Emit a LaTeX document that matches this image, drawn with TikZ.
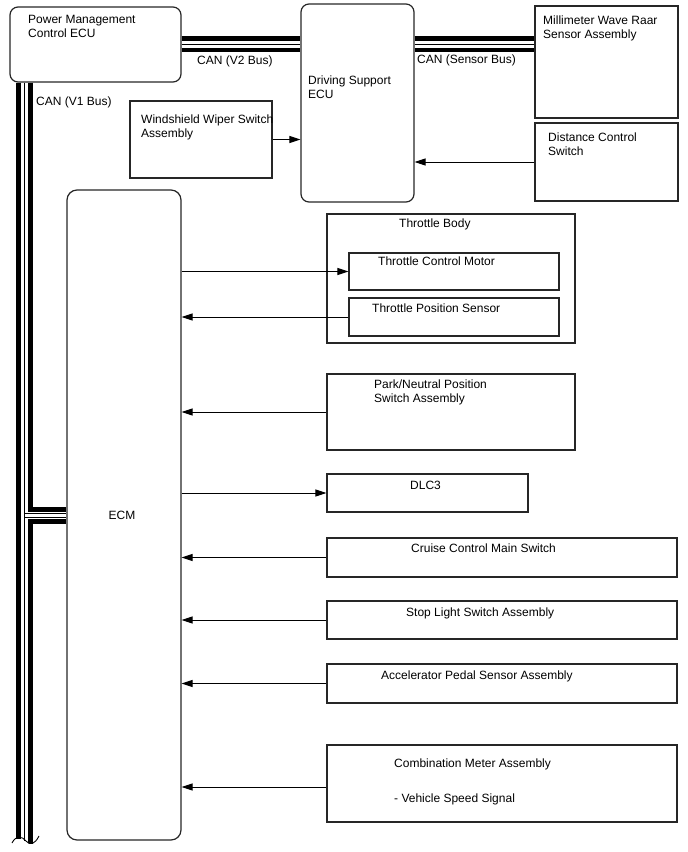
\documentclass[tikz,border=0pt]{standalone}
\usepackage{fontspec}
\setmainfont{Liberation Sans}
\usepackage{tikz}
\usetikzlibrary{calc,arrows.meta}

\tikzset{
    blk/.style={draw=black!85, line width=1.2pt, inner sep=0pt},
    ecu/.style={blk, rounded corners=8pt},
    txt/.style={anchor=north west, inner sep=0pt, align=left},
    arr/.style={draw=black, line width=1pt, -{Triangle[length=11pt,width=7pt]}},
    busthick/.style={line width=4.4pt},
    busthin/.style={line width=1pt}
}

\begin{document}
\begin{tikzpicture}[x=1pt, y=-1pt, font=\fontsize{12}{14}\selectfont]
    \useasboundingbox (0,0) rectangle (688,852);

    % ECUs and parts
    \node[ecu, minimum width=171, minimum height=75] (pmc) at (95.5, 44.5) {};
    \node[ecu, minimum width=113, minimum height=198] (ds) at (357.5, 103) {};
    \node[blk, minimum width=143, minimum height=112] (mw) at (606.5, 62) {};
    \node[blk, minimum width=142, minimum height=77] (wws) at (201, 139.5) {};
    \node[blk, minimum width=143, minimum height=78] (dcs) at (606.5, 162) {};
    \node[ecu, rounded corners=10pt, minimum width=114, minimum height=650] (ecm) at (124, 515) {};

    \node[blk, minimum width=248, minimum height=129] (tb) at (451, 278.5) {};
    \node[blk, minimum width=210, minimum height=37] (tcm) at (454, 271.5) {};
    \node[blk, minimum width=210, minimum height=38] (tps) at (454, 317) {};
    \node[blk, minimum width=248, minimum height=76] (pnp) at (451, 412) {};
    \node[blk, minimum width=201, minimum height=38] (dlc) at (427.5, 493) {};
    \node[blk, minimum width=350, minimum height=39] (ccms) at (502, 557.5) {};
    \node[blk, minimum width=350, minimum height=38] (sls) at (502, 620) {};
    \node[blk, minimum width=350, minimum height=39] (aps) at (502, 683.5) {};
    \node[blk, minimum width=350, minimum height=77] (cma) at (502, 783.5) {};

    % texts
    \node[txt] (pmc-t) at (28, 15) {Power Management\\Control ECU};
    \node[txt] (ds-t) at (308, 76) {Driving Support\\ECU};
    \node[txt] (mw-t) at (543, 16) {Millimeter Wave Raar\\Sensor Assembly};
    \node[txt] (wws-t) at (141, 115) {Windshield Wiper Switch\\Assembly};
    \node[txt] (dcs-t) at (548, 133) {Distance Control\\Switch};
    \node (ecm-t) at (122, 515) {ECM};
    \node[txt] (tb-t) at (399, 219) {Throttle Body};
    \node[txt] (tcm-t) at (378, 257) {Throttle Control Motor};
    \node[txt] (tps-t) at (372, 304) {Throttle Position Sensor};
    \node[txt] (pnp-t) at (374, 380) {Park/Neutral Position\\Switch Assembly};
    \node[txt] (dlc-t) at (410, 481) {DLC3};
    \node[txt] (ccms-t) at (411, 544) {Cruise Control Main Switch};
    \node[txt] (sls-t) at (406, 608) {Stop Light Switch Assembly};
    \node[txt] (aps-t) at (381, 671) {Accelerator Pedal Sensor Assembly};
    \node[txt] (cma-t) at (394, 759) {Combination Meter Assembly\\[21pt]- Vehicle Speed Signal};

    % CAN buses
    \node[txt] (v2-t) at (197, 56) {CAN (V2 Bus)};
    \node[txt] (sb-t) at (417, 55) {CAN (Sensor Bus)};
    \node[txt] (v1-t) at (36, 97) {CAN (V1 Bus)};

    \draw[busthick] ($(pmc.east)+(0,-6)$) -- ($(pmc.east -| ds.west)+(0,-6)$);
    \draw[busthin] (pmc.east) -- (pmc.east -| ds.west);
    \draw[busthick] ($(pmc.east)+(0,5.5)$) -- ($(pmc.east -| ds.west)+(0,5.5)$);

    \draw[busthick] ($(pmc.east -| ds.east)+(0,-6)$) -- ($(pmc.east -| mw.west)+(0,-6)$);
    \draw[busthin] (pmc.east -| ds.east) -- (pmc.east -| mw.west);
    \draw[busthick] ($(pmc.east -| ds.east)+(0,5.5)$) -- ($(pmc.east -| mw.west)+(0,5.5)$);

    \coordinate (v1) at ($(pmc.south west)+(15,0)$);
    \draw[busthick] ($(v1)+(-6,0)$) -- ($(v1 |- ecm.south)+(-6,-2)$);
    \draw[busthin] (v1) -- (v1 |- ecm.south);
    \draw[busthick] ($(v1)+(6,0)$) |- ($(ecm.west)+(0,-5.5)$);
    \draw[busthick] ($(v1 |- ecm.south)+(6,2)$) |- ($(ecm.west)+(0,6.5)$);
    \draw[busthin] ($(v1 |- ecm.west)+(0,-1.5)$) -- ($(ecm.west)+(0,-1.5)$);
    \draw[busthin] ($(v1 |- ecm.west)+(0,2.5)$) -- ($(ecm.west)+(0,2.5)$);
    \draw[line width=0.9pt] (12,843) .. controls (16,835) and (22,836) .. (26,841)
        .. controls (30,846) and (35,844) .. (39,836);

    % signals
    \draw[arr] (wws.east) -- (wws.east -| ds.west);
    \draw[arr] (dcs.west) -- (dcs.west -| ds.east);
    \draw[arr] (tcm.west -| ecm.east) -- (tcm.west);
    \draw[arr] (tps.west) -- (tps.west -| ecm.east);
    \draw[arr] (pnp.west) -- (pnp.west -| ecm.east);
    \draw[arr] (dlc.west -| ecm.east) -- (dlc.west);
    \draw[arr] (ccms.west) -- (ccms.west -| ecm.east);
    \draw[arr] (sls.west) -- (sls.west -| ecm.east);
    \draw[arr] (aps.west) -- (aps.west -| ecm.east);
    \draw[arr] ($(cma.west)+(0,3.5)$) -- ($(cma.west -| ecm.east)+(0,3.5)$);
\end{tikzpicture}
\end{document}
